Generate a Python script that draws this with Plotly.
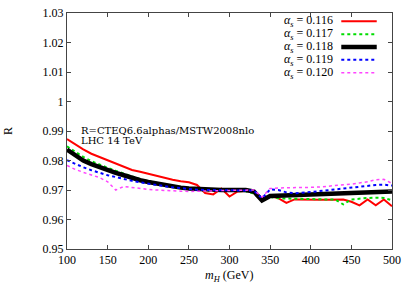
import plotly.graph_objects as go

mh = list(range(100, 501, 10))

r_0116 = [.9873, .9855, .9838, .9823, .9812, .9802, .9790, .9778, .9768, .9762,
          .9755, .9748, .9742, .9735, .9730, .9726, .9717, .9690, .9685, .9705,
          .9678, .9695, .9697, .9692, .9668, .9680, .9672, .9656, .9668, .9667,
          .9667, .9667, .9667, .9667, .9668, .9660, .9648, .9668, .9648, .9668, .9645]
r_0117 = [.9848, .9830, .9812, .9798, .9786, .9775, .9765, .9755, .9745, .9737,
          .9730, .9724, .9718, .9712, .9708, .9704, .9700, .9698, .9697, .9697,
          .9697, .9698, .9696, .9688, .9663, .9676, .9672, .9671, .9670, .9670,
          .9670, .9669, .9668, .9668, .9651, .9668, .9671, .9673, .9674, .9673, .9665]
r_0118 = [.9837, .9818, .9800, .9788, .9777, .9767, .9758, .9750, .9740, .9733,
          .9727, .9722, .9716, .9712, .9708, .9705, .9703, .9702, .9701, .9700,
          .9700, .9700, .9700, .9695, .9665, .9680, .9681, .9682, .9683, .9684,
          .9685, .9686, .9687, .9688, .9689, .9690, .9692, .9693, .9694, .9695, .9695]
r_0119 = [.9801, .9788, .9777, .9767, .9758, .9750, .9744, .9737, .9731, .9726,
          .9721, .9717, .9713, .9709, .9706, .9703, .9701, .9700, .9700, .9700,
          .9700, .9700, .9700, .9698, .9672, .9702, .9700, .9692, .9689, .9690,
          .9693, .9696, .9699, .9702, .9706, .9709, .9712, .9715, .9717, .9718, .9715]
r_0120 = [.9783, .9770, .9760, .9750, .9742, .9728, .9700, .9712, .9708, .9705,
          .9702, .9700, .9698, .9697, .9696, .9695, .9695, .9696, .9697, .9698,
          .9699, .9700, .9701, .9700, .9676, .9705, .9707, .9707, .9707, .9708,
          .9709, .9710, .9712, .9714, .9717, .9720, .9724, .9728, .9735, .9736, .9722]

labels = ["0.116", "0.117", "0.118", "0.119", "0.120"]
series = [r_0116, r_0117, r_0118, r_0119, r_0120]
colors = ["#ff0000", "#00dd00", "#000000", "#0000ff", "#ff44ff"]
widths = [2, 2, 4.5, 2, 1.5]
dashes = ["solid", "dot", "solid", "dot", "dot"]

ytick_vals = [0.95, 0.96, 0.97, 0.98, 0.99, 1.0, 1.01, 1.02, 1.03]
ytick_text = ["0.95", "0.96", "0.97", "0.98", "0.99", "1", "1.01", "1.02", "1.03"]
xtick_vals = [100, 150, 200, 250, 300, 350, 400, 450, 500]

FONT = "Liberation Serif"
FONT2 = "DejaVu Serif"

fig = go.Figure()
for lab, ys, c, w, d in zip(labels, series, colors, widths, dashes):
    fig.add_trace(go.Scatter(x=mh, y=ys, mode="lines", name=lab,
                             line=dict(color=c, width=w, dash=d),
                             showlegend=False))

L, R, T, B = 66.5, 396.5, 6.0, 249.0
PW, PH = R - L, B - T

def px(x):
    return (x - L) / PW

def py(y):
    return 1 - (y - T) / PH

ann = []
shapes = []
leg_y = [14.6, 27.8, 41.0, 54.2, 67.4]
for i, (lab, c, w, d) in enumerate(zip(labels, colors, widths, dashes)):
    yp = py(leg_y[i])
    ann.append(dict(xref="paper", yref="paper", x=px(339), y=yp,
                    xanchor="right", yanchor="middle", showarrow=False,
                    text="<i>α</i><sub><i>s</i></sub> = " + lab,
                    font=dict(family=FONT, size=12, color="#000")))
    shapes.append(dict(type="line", xref="paper", yref="paper",
                       x0=px(345), x1=px(381),
                       y0=yp, y1=yp, line=dict(color=c, width=w, dash=d)))

ann.append(dict(xref="paper", yref="paper", x=px(79), y=py(126.5),
                xanchor="left", yanchor="middle",
                showarrow=False, text="R=CTEQ6.6alphas/MSTW2008nlo",
                font=dict(family=FONT2, size=10, color="#000")))
ann.append(dict(xref="paper", yref="paper", x=px(79), y=py(137.5),
                xanchor="left", yanchor="middle",
                showarrow=False, text="LHC 14 TeV",
                font=dict(family=FONT2, size=10, color="#000")))
ann.append(dict(xref="paper", yref="paper", x=px(6), y=py(127),
                xanchor="center", yanchor="middle",
                showarrow=False, text="R", textangle=-90,
                font=dict(family=FONT, size=12, color="#000")))
ann.append(dict(xref="paper", yref="paper", x=px(231), y=py(277),
                xanchor="center", yanchor="middle",
                showarrow=False, text="<i>m<sub>H</sub></i> (GeV)",
                font=dict(family=FONT, size=12, color="#000")))

axis_common = dict(showgrid=False, zeroline=False, ticks="inside", ticklen=4,
                   tickcolor="#444", linecolor="#444", linewidth=1, mirror="ticks",
                   showline=True, tickfont=dict(family=FONT, size=12, color="#000"))

fig.update_layout(
    width=407, height=288,
    margin=dict(l=L, r=407 - R, t=T, b=288 - B),
    plot_bgcolor="white", paper_bgcolor="white",
    xaxis=dict(range=[100, 500], tickvals=xtick_vals, **axis_common),
    yaxis=dict(range=[0.95, 1.03], tickvals=ytick_vals, ticktext=ytick_text, **axis_common),
    annotations=ann, shapes=shapes,
)

fig.write_html("out.html", config={"displayModeBar": False},
               post_script="document.body.style.margin='0';document.body.style.padding='0';")
